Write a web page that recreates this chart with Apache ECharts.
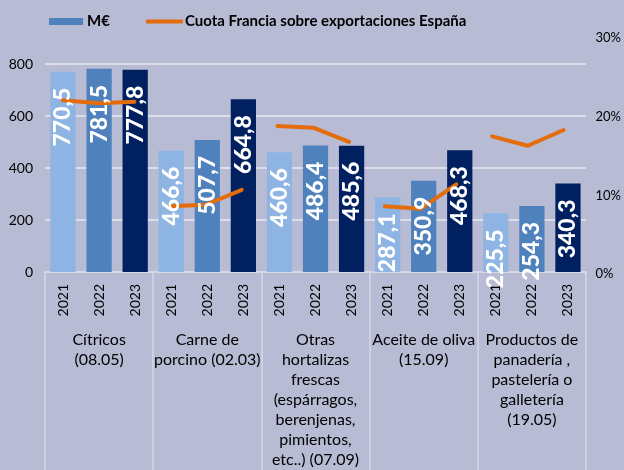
<!DOCTYPE html>
<html>
<head>
<meta charset="utf-8">
<script src="https://cdn.jsdelivr.net/npm/echarts@6/dist/echarts.min.js"></script>
<style>
html,body{margin:0;padding:0;background:#b7bbd3;}
#c{width:624px;height:470px;}
</style>
</head>
<body>
<div id="c"></div>
<script>
const groups = [
  'Cítricos\n(08.05)',
  'Carne de\nporcino (02.03)',
  'Otras\nhortalizas\nfrescas\n(espárragos,\nberenjenas,\npimientos,\netc..) (07.09)',
  'Aceite de oliva\n(15.09)',
  'Productos de\npanadería ,\npastelería o\ngalletería\n(19.05)'
];
const years = ['2021', '2022', '2023'];
const exportValues = [770.5, 781.5, 777.8, 466.6, 507.7, 664.8, 460.6, 486.4, 485.6, 287.1, 350.9, 468.3, 225.5, 254.3, 340.3];
const shareFrance = [22.1, 21.7, 21.9, 8.6, 8.8, 10.7, 18.8, 18.6, 16.8, 8.6, 8.3, 11.4, 17.5, 16.3, 18.3];
const leftTicks = [0, 200, 400, 600, 800];
const rightTicks = [0, 10, 20, 30];
const barName = 'M€';
const lineName = 'Cuota Francia sobre exportaciones España';

const yearColors = ['#8EB4E3', '#4F81BD', '#002060'];
const FONT = 'Lato';

const cats = [];
groups.forEach((g, gi) => years.forEach((y, yi) => cats.push(y + '|' + gi)));

const barData = exportValues.map((v, i) => ({
  value: v,
  itemStyle: { color: yearColors[i % years.length] }
}));

const lineSeries = groups.map((g, gi) => ({
  name: lineName,
  type: 'line',
  xAxisIndex: 2,
  yAxisIndex: 1,
  symbol: 'none',
  lineStyle: { color: '#E46C0A', width: 4, cap: 'round', join: 'round' },
  itemStyle: { color: '#E46C0A' },
  data: shareFrance.map((v, i) => Math.floor(i / years.length) === gi ? v : null),
  z: 5
}));

const chart = echarts.init(document.getElementById('c'));
chart.setOption({
  backgroundColor: '#b7bbd3',
  animation: false,
  textStyle: { fontFamily: FONT },
  legend: [
    {
      data: [{ name: barName, icon: 'rect' }],
      left: 44, top: 9,
      itemWidth: 34, itemHeight: 7, itemGap: 5,
      textStyle: { fontFamily: FONT, fontWeight: 'bold', fontSize: 15, color: '#000', padding: [0, 0, 0, -1] }
    },
    {
      data: [{ name: lineName, icon: 'roundRect' }],
      left: 141, top: 9,
      itemWidth: 37, itemHeight: 4,
      textStyle: { fontFamily: FONT, fontWeight: 'bold', fontSize: 15, color: '#000', padding: [0, 0, 0, -3] }
    }
  ],
  grid: [
    { left: 45, right: 38, top: 64, bottom: 196 },
    { left: 45, right: 38, top: 38, bottom: 196 }
  ],
  xAxis: [
    {
      type: 'category', gridIndex: 0, data: cats, position: 'bottom',
      axisLine: { show: true, lineStyle: { color: '#d6d8e4', width: 1.5 } },
      axisTick: { show: false },
      axisLabel: {
        interval: 0, rotate: 90, margin: 12, fontSize: 14, color: '#000', fontFamily: FONT,
        formatter: v => v.split('|')[0]
      }
    },
    {
      type: 'category', gridIndex: 0, data: groups, position: 'bottom', offset: 0,
      axisLine: { show: true, lineStyle: { color: '#d6d8e4', width: 1.5 } },
      axisTick: { show: true, length: 200, lineStyle: { color: '#d6d8e4', width: 1.5 } },
      axisLabel: {
        interval: 0, margin: 58, fontSize: 16, lineHeight: 20, color: '#000', fontFamily: FONT,
        verticalAlign: 'top', align: 'center'
      }
    },
    {
      type: 'category', gridIndex: 1, data: cats, show: false
    }
  ],
  yAxis: [
    {
      type: 'value', gridIndex: 0, min: leftTicks[0], max: leftTicks[leftTicks.length - 1],
      interval: leftTicks[1] - leftTicks[0],
      axisLine: { show: false }, axisTick: { show: false },
      axisLabel: { margin: 12, fontSize: 14, color: '#000', fontFamily: FONT },
      splitLine: { show: true, lineStyle: { color: '#e8e9f1', width: 1.5 } }
    },
    {
      type: 'value', gridIndex: 1, position: 'right', min: rightTicks[0], max: rightTicks[rightTicks.length - 1],
      interval: rightTicks[1] - rightTicks[0],
      axisLine: { show: false }, axisTick: { show: false },
      axisLabel: { margin: 14, fontSize: 13, color: '#000', fontFamily: FONT, formatter: '{value}%' },
      splitLine: { show: false }
    }
  ],
  series: [
    {
      name: barName, type: 'bar', xAxisIndex: 0, yAxisIndex: 0,
      barWidth: '70%',
      itemStyle: { color: '#4F81BD' },
      data: barData,
      z: 2
    },
    {
      name: 'labels', type: 'bar', xAxisIndex: 0, yAxisIndex: 0,
      barWidth: '70%', barGap: '-100%', silent: true,
      itemStyle: { color: 'rgba(0,0,0,0)' },
      data: exportValues,
      label: {
        show: true, position: 'insideTop', rotate: 90, distance: 16,
        align: 'right', verticalAlign: 'middle',
        color: '#fff', fontWeight: 900, fontSize: 23, fontFamily: FONT,
        formatter: p => p.value.toFixed(1).replace('.', ',')
      },
      z: 10
    }
  ].concat(lineSeries)
});
</script>
</body>
</html>
